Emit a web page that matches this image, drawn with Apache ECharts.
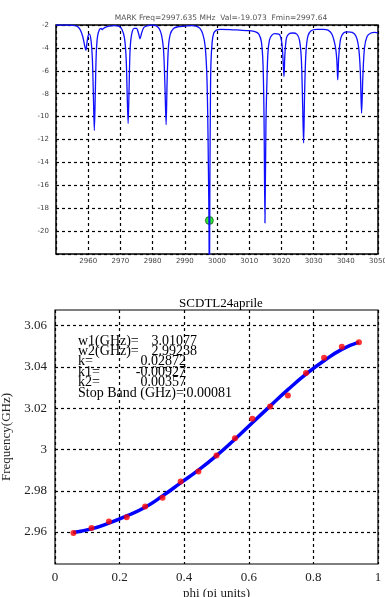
<!DOCTYPE html>
<html>
<head>
<meta charset="utf-8">
<script src="https://cdn.jsdelivr.net/npm/echarts@6/dist/echarts.min.js"></script>
<style>
  html, body { margin: 0; padding: 0; background: #fff; }
  #chart { width: 385px; height: 597px; }
</style>
</head>
<body>
<div id="chart"></div>
<script>
// top panel: transmission spectrum (MHz, dB)
const specFreq = [2950, 2953, 2955, 2956.5, 2957.5, 2958.3, 2958.9, 2959.3, 2959.6, 2960.0, 2960.4, 2960.9, 2961.3, 2961.6, 2961.9, 2962.2, 2962.5, 2962.9, 2963.5, 2964.0, 2964.3, 2964.7, 2965.3, 2966.5, 2968, 2969.5, 2970.5, 2971.3, 2971.8, 2972.1, 2972.4, 2972.7, 2973.0, 2973.5, 2974.3, 2975.0, 2975.6, 2976.1, 2976.6, 2977.3, 2978.5, 2980, 2981, 2982, 2982.8, 2983.4, 2983.8, 2984.2, 2984.5, 2984.9, 2985.5, 2986.5, 2988, 2990, 2992, 2993.5, 2994.7, 2995.6, 2996.3, 2996.8, 2997.1, 2997.35, 2997.5, 2997.64, 2997.8, 2997.95, 2998.1, 2998.5, 2999, 2999.8, 3001, 3004, 3007, 3010, 3012, 3013, 3013.8, 3014.3, 3014.6, 3014.9, 3015.2, 3015.5, 3015.8, 3016.3, 3017, 3018, 3019.3, 3020.1, 3020.6, 3020.8, 3021.1, 3021.6, 3022.5, 3023.5, 3024.8, 3025.6, 3026.2, 3026.6, 3026.9, 3027.2, 3027.6, 3028.2, 3029.2, 3031, 3033, 3034.5, 3035.7, 3036.7, 3037.2, 3037.5, 3037.8, 3038.4, 3039.3, 3040.5, 3042, 3043.2, 3044, 3044.5, 3044.9, 3045.3, 3045.8, 3046.6, 3047.8, 3049, 3050];
const specDb = [-2.0, -2.0, -2.02, -2.1, -2.4, -3.0, -3.8, -4.2, -3.6, -2.9, -2.8, -3.4, -5.0, -8.0, -11.2, -8.0, -4.5, -3.0, -2.4, -2.3, -2.4, -2.3, -2.2, -2.1, -2.05, -2.1, -2.4, -3.2, -5.0, -8.0, -10.6, -7.5, -4.2, -2.8, -2.3, -2.3, -2.7, -3.2, -2.7, -2.2, -2.05, -2.0, -2.05, -2.3, -2.9, -4.2, -7.0, -10.7, -7.0, -4.0, -2.8, -2.3, -2.15, -2.1, -2.05, -2.1, -2.3, -2.8, -3.8, -6.0, -9.5, -15.0, -19.0, -26.0, -15.0, -9.0, -5.5, -3.5, -2.7, -2.45, -2.38, -2.4, -2.45, -2.5, -2.6, -2.8, -3.5, -5.5, -10.0, -19.3, -10.5, -7.0, -4.5, -3.3, -2.9, -2.75, -2.8, -3.5, -5.5, -6.5, -4.5, -3.1, -2.75, -2.7, -2.8, -3.3, -5.0, -9.0, -12.3, -8.0, -4.5, -3.0, -2.5, -2.38, -2.38, -2.45, -2.8, -3.8, -5.0, -6.8, -4.8, -3.2, -2.7, -2.6, -2.65, -3.0, -4.0, -6.0, -9.7, -6.5, -4.0, -3.0, -2.7, -2.65, -2.68];
const markerPoint = [2997.635, -19.073];
const topTitle = "MARK Freq=2997.635 MHz  Val=-19.073  Fmin=2997.64";

// bottom panel: dispersion curve
const phiMeas = [0.057, 0.113, 0.167, 0.222, 0.279, 0.333, 0.389, 0.444, 0.5, 0.557, 0.611, 0.666, 0.721, 0.777, 0.833, 0.888, 0.941];
const freqMeas = [2.9595, 2.962, 2.9651, 2.9672, 2.9724, 2.9766, 2.9845, 2.9893, 2.9971, 3.0055, 3.0149, 3.0208, 3.0262, 3.0371, 3.0445, 3.0498, 3.052];
const phiFit = [0.057, 0.113, 0.167, 0.222, 0.279, 0.333, 0.389, 0.444, 0.5, 0.557, 0.611, 0.666, 0.721, 0.777, 0.833, 0.888, 0.941];
const freqFit = [2.9598, 2.9615, 2.9643, 2.9678, 2.972, 2.9775, 2.9838, 2.99, 2.997, 3.005, 3.013, 3.021, 3.029, 3.0365, 3.043, 3.0485, 3.052];
const freqTicks = [2.96, 2.98, 3, 3.02, 3.04, 3.06];
const fitLabels = ["w1(GHz)=", "w2(GHz)=", "k=", "k1=", "k2=", "Stop Band (GHz)="];
const fitValues = ["3.01077", "2.99238", "0.02872", "-0.00927", "0.00357", "0.00081"];

const chart = echarts.init(document.getElementById("chart"));
const serif = "Liberation Serif";
const dash = { color: "#000", type: [3, 3], width: 1.2 };

const specData = specFreq.map((f, i) => [f, specDb[i]]);
const measData = phiMeas.map((p, i) => [p, freqMeas[i]]);
const fitData = phiFit.map((p, i) => [p, freqFit[i]]);

const valueX = [197, 197, 186, 186, 186, 232];
const textGraphics = [];
fitLabels.forEach((lab, i) => {
  const y = 334 + i * 10.4;
  textGraphics.push({ type: "text", left: 78, top: y, style: { text: lab, font: "14px " + serif, fill: "#000" } });
  textGraphics.push({ type: "text", right: 385 - valueX[i], top: y, style: { text: fitValues[i], font: "14px " + serif, fill: "#000" } });
});

chart.setOption({
  animation: false,
  title: [
    { text: topTitle, left: 216, top: 9, textAlign: "center", textStyle: { fontSize: 7.5, fontWeight: "normal", color: "#555", fontFamily: "DejaVu Sans" } },
    { text: "SCDTL24aprile", left: 216, top: 292, textAlign: "center", textStyle: { fontSize: 13, fontWeight: "normal", color: "#000", fontFamily: serif } }
  ],
  grid: [
    { left: 56, right: 7, top: 25, height: 229, outerBoundsMode: "none", containLabel: false, show: true, borderColor: "#000", borderWidth: 1.5, backgroundColor: "#fff" },
    { left: 55, right: 7, top: 310, height: 254, outerBoundsMode: "none", containLabel: false, show: true, borderColor: "#000", borderWidth: 1.2, backgroundColor: "#fff" }
  ],
  xAxis: [
    {
      gridIndex: 0, type: "value", min: 2950, max: 3050, interval: 10,
      axisLine: { show: false }, axisTick: { show: false },
      axisLabel: { showMinLabel: false, fontSize: 7, color: "#444", margin: 4, fontFamily: "DejaVu Sans", formatter: v => String(v) },
      splitLine: { show: true, lineStyle: dash }
    },
    {
      gridIndex: 1, type: "value", min: 0, max: 1, interval: 0.2,
      axisLine: { show: false }, axisTick: { show: false },
      axisLabel: { fontSize: 13, color: "#222", margin: 7, fontFamily: serif },
      splitLine: { show: true, lineStyle: dash },
      name: "phi (pi units)", nameLocation: "middle", nameGap: 23,
      nameTextStyle: { fontSize: 13, color: "#222", fontFamily: serif }
    }
  ],
  yAxis: [
    {
      gridIndex: 0, type: "value", min: -22, max: -2, interval: 2,
      axisLine: { show: false }, axisTick: { show: false },
      axisLabel: { showMinLabel: false, fontSize: 7, color: "#444", margin: 7, fontFamily: "DejaVu Sans" },
      splitLine: { show: true, lineStyle: dash }
    },
    {
      gridIndex: 1, type: "value", min: 2.9445, max: 3.0676,
      axisLine: { show: false },
      axisTick: { show: false, customValues: freqTicks },
      axisLabel: { customValues: freqTicks, fontSize: 13, color: "#222", margin: 8, fontFamily: serif },
      splitLine: { show: true, lineStyle: dash },
      name: "Frequency(GHz)", nameLocation: "middle", nameGap: 30,
      nameTextStyle: { fontSize: 13, color: "#222", fontFamily: serif }
    }
  ],
  series: [
    {
      type: "line", xAxisIndex: 0, yAxisIndex: 0, data: specData,
      showSymbol: false, smooth: 0.3, lineStyle: { color: "#1010ff", width: 1.3 }
    },
    {
      type: "scatter", xAxisIndex: 0, yAxisIndex: 0, data: [markerPoint],
      symbolSize: 8, itemStyle: { color: "#00e000", borderColor: "#004000", borderWidth: 0.8 }
    },
    {
      type: "line", xAxisIndex: 1, yAxisIndex: 1, data: fitData,
      showSymbol: false, smooth: true, lineStyle: { color: "#0000ff", width: 3.5 }
    },
    {
      type: "scatter", xAxisIndex: 1, yAxisIndex: 1, data: measData,
      symbolSize: 6, itemStyle: { color: "#ff0000" }, z: 5
    }
  ],
  graphic: textGraphics
});
</script>
</body>
</html>
